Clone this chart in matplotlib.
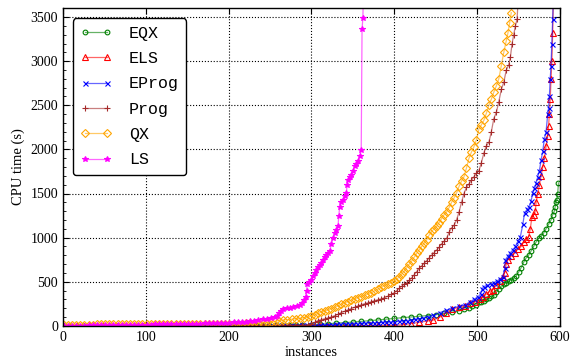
import matplotlib
matplotlib.use("Agg")
import matplotlib.pyplot as plt
from matplotlib.ticker import MultipleLocator
from matplotlib.colors import to_rgba

# ---------------- data (instances solved, CPU time in s) ----------------
labels = ["EQX", "ELS", "EProg", "Prog", "QX", "LS"]

eqx_n = [1, 9, 17, 25, 33, 41, 49, 57, 65, 73, 81, 89, 97, 105, 113, 121, 129, 137, 145, 153, 161, 169, 177, 185, 193, 201, 209, 217, 225, 233, 241, 249, 257, 265, 273, 281, 289,
         300, 310, 320, 330, 340, 350, 360, 370, 380, 390, 400, 410, 420, 430, 440, 450, 460, 470, 478, 484, 490, 494, 498, 502, 505, 508, 511, 514, 517, 520, 523, 526, 529,
         532, 535, 538, 541, 544, 547, 550, 553, 556, 559, 562, 565, 568, 571, 574, 577, 580, 583, 586, 589, 591, 593, 594, 595, 596, 597, 598]
eqx_t = [0, 0, 0, 0, 0, 0, 1, 1, 1, 1, 1, 1, 1, 1, 1, 2, 2, 2, 2, 2, 2, 2, 3, 3, 3, 3, 3, 3, 4, 4, 4, 5, 5, 6, 6, 7, 8,
         10, 18, 24, 30, 36, 42, 50, 58, 66, 75, 84, 92, 100, 108, 116, 125, 140, 155, 170, 185, 205, 220, 240, 265, 275, 285, 300, 320, 335, 350, 380, 420, 450,
         470, 490, 505, 520, 545, 565, 610, 660, 720, 770, 800, 850, 900, 950, 990, 1020, 1050, 1100, 1150, 1200, 1260, 1300, 1350, 1400, 1430, 1500, 1620]

els_n = [1, 9, 17, 25, 33, 41, 49, 57, 65, 73, 81, 89, 97, 105, 113, 121, 129, 137, 145, 153, 161, 169, 177, 185, 193, 201, 209, 217, 225, 233, 241, 249, 257, 265, 273, 281, 289,
         300, 310, 320, 330, 340, 350, 360, 370, 380, 390, 400, 410, 420, 430, 440, 447, 455, 462, 470, 478, 485, 491, 497, 503, 507, 511, 515, 519, 523, 527, 531,
         533, 535, 537, 541, 545, 549, 553, 556, 559, 562, 564, 566, 568, 570, 571, 573, 575, 577, 579, 581, 583, 585, 586, 587, 588, 589, 590, 591, 592]
els_t = [0, 0, 0, 0, 0, 0, 0, 0, 0, 0, 0, 0, 0, 0, 0, 0, 0, 0, 0, 1, 1, 1, 1, 1, 1, 1, 1, 1, 1, 1, 1, 1, 1, 1, 1, 2, 2,
         2, 2, 2, 3, 3, 3, 3, 4, 4, 4, 5, 12, 25, 40, 55, 65, 100, 150, 190, 210, 230, 254, 275, 300, 330, 360, 390, 410, 462, 510, 557,
         600, 700, 750, 790, 830, 870, 900, 950, 980, 1011, 1100, 1239, 1260, 1300, 1400, 1500, 1600, 1700, 1800, 1900, 2035, 2150, 2263, 2400, 2566, 2800, 3000, 3324, 3800]

eprog_n = [1, 7, 13, 19, 25, 31, 37, 43, 49, 55, 61, 67, 73, 79, 85, 91, 97, 103, 109, 115, 121, 127, 133, 139, 145, 151, 157, 163, 169, 175, 181, 187, 193, 199, 205, 211,
           217, 223, 229, 234, 239, 244, 249, 254, 259, 264, 269, 274, 279, 284, 289, 294, 300, 305, 310, 315, 320, 325, 330, 335, 340, 345, 350, 355, 360, 365, 370,
           375, 380, 385, 390, 395, 400, 405, 410, 415, 420, 425, 430, 435, 440, 447, 455, 462, 470, 478, 485, 491, 496, 501, 504, 506, 508, 512, 516, 520, 524, 528,
           531, 533, 534, 537, 540, 543, 546, 549, 552, 555, 557, 560, 563, 565, 567, 569, 571, 573, 575, 577, 579, 581, 583, 585, 586, 587, 588, 589, 590, 591, 592]
eprog_t = [0, 0, 0, 0, 0, 0, 0, 0, 0, 0, 0, 0, 0, 0, 0, 0, 1, 1, 1, 1, 1, 1, 1, 1, 1, 1, 1, 1, 1, 2, 2, 2, 2, 2, 2, 2,
           2, 2, 3, 3, 3, 3, 3, 3, 4, 4, 4, 4, 4, 5, 5, 5, 5, 7, 9, 10, 12, 14, 16, 18, 20, 22, 24, 26, 28, 30, 32,
           34, 36, 38, 40, 42, 45, 50, 55, 60, 65, 72, 80, 90, 100, 122, 150, 175, 200, 220, 235, 270, 300, 330, 360, 420, 445, 460, 475, 490, 510, 535,
           557, 650, 750, 790, 830, 860, 900, 960, 1011, 1150, 1277, 1320, 1352, 1420, 1504, 1560, 1620, 1690, 1760, 1880, 1980, 2120, 2200, 2400, 2470, 2600, 2800, 2950, 3200, 3480, 3800]

prog_n = [1, 9, 17, 25, 33, 41, 49, 57, 65, 73, 81, 89, 97, 105, 113, 121, 129, 137, 145, 153, 161, 169, 177, 185, 193, 201, 209, 217, 225, 233, 241, 249, 257, 265, 273, 281, 289,
          296, 300, 304, 308, 312, 316, 320, 324, 328, 332, 336, 340, 344, 348, 352, 356, 360, 364, 368, 372, 376, 380, 384, 388, 392, 396, 400, 403, 406, 409, 412,
          415, 418, 421, 424, 427, 430, 433, 436, 439, 442, 445, 448, 451, 454, 457, 460, 463, 466, 469, 472, 475, 478, 481, 484, 487, 490, 493, 496, 499, 502, 505,
          508, 511, 514, 517, 520, 523, 526, 529, 532, 535, 538, 540, 542, 544, 546, 548, 550]
prog_t = [0, 0, 0, 0, 0, 1, 1, 1, 1, 1, 1, 1, 2, 2, 2, 2, 2, 2, 3, 3, 3, 3, 3, 4, 4, 4, 4, 5, 5, 5, 6, 6, 6, 7, 7, 8, 8,
          10, 20, 40, 60, 70, 80, 90, 100, 115, 130, 150, 165, 180, 195, 210, 225, 238, 250, 260, 272, 285, 295, 305, 318, 335, 355, 375, 400, 425, 450, 470,
          490, 515, 545, 580, 615, 650, 680, 710, 740, 770, 800, 830, 860, 890, 930, 960, 990, 1060, 1110, 1140, 1200, 1290, 1400, 1500, 1570, 1610, 1650, 1690, 1730, 1760, 1850,
          1960, 2040, 2080, 2200, 2350, 2420, 2540, 2680, 2760, 2900, 2960, 3050, 3200, 3300, 3400, 3475, 3800]

qx_n = [1, 6, 11, 16, 21, 26, 31, 36, 41, 46, 51, 56, 61, 66, 71, 76, 81, 86, 91, 96, 101, 106, 111, 116, 121, 126, 131, 136, 141, 146, 151, 156, 161, 166, 171, 176, 181,
        186, 191, 196, 201, 206, 211, 216, 221, 226, 231, 236, 241, 246, 251, 256, 261, 266, 271, 276, 281, 286, 291, 296, 300, 304, 308, 312, 316, 320, 324, 328,
        332, 336, 340, 344, 348, 352, 356, 360, 364, 368, 372, 376, 380, 384, 388, 392, 396, 400, 403, 406, 409, 412, 415, 418, 421, 424, 427, 430, 433, 436, 439,
        442, 445, 448, 451, 454, 457, 460, 463, 466, 469, 472, 475, 478, 481, 484, 487, 490, 493, 496, 499, 502, 505, 508, 511, 514, 517, 520, 523, 526, 529, 532,
        535, 537, 539, 541]
qx_t = [12, 12, 13, 13, 13, 14, 14, 14, 15, 15, 15, 16, 16, 16, 17, 17, 17, 18, 18, 18, 19, 19, 19, 20, 20, 20, 21, 21, 21, 22, 22, 22, 23, 23, 23, 24, 24,
        24, 25, 25, 25, 26, 26, 26, 27, 27, 30, 33, 37, 40, 45, 50, 60, 65, 70, 75, 80, 85, 90, 100, 110, 125, 140, 155, 170, 180, 195, 210,
        225, 245, 260, 275, 290, 305, 320, 332, 345, 360, 375, 395, 415, 435, 455, 470, 490, 505, 530, 557, 590, 620, 660, 700, 735, 780, 822, 860, 900, 940, 974,
        1030, 1070, 1100, 1126, 1170, 1215, 1260, 1290, 1340, 1400, 1450, 1505, 1580, 1640, 1690, 1790, 1900, 1970, 2030, 2110, 2230, 2280, 2330, 2410, 2500, 2570, 2650, 2720, 2800, 2950, 3100,
        3230, 3320, 3430, 3550]

ls_n = [1, 6, 11, 16, 21, 26, 31, 36, 41, 46, 51, 56, 61, 66, 71, 76, 81, 86, 91, 96, 101, 106, 111, 116, 121, 126, 131, 136, 141, 146, 151, 156, 161, 166, 171, 176, 181,
        186, 191, 196, 201, 206, 211, 216, 221, 226, 231, 236, 241, 246, 251, 256, 259, 261, 263, 266, 270, 274, 278, 282, 286, 289, 291, 293, 294, 295, 297, 300,
        302, 304, 306, 308, 310, 312, 314, 316, 318, 320, 322, 324, 326, 328, 330, 332, 333, 334, 336, 338, 340, 342, 343, 344, 346, 348, 350, 352, 354, 356, 358,
        360, 361, 362, 363]
ls_t = [1, 1, 2, 2, 3, 3, 4, 4, 5, 5, 6, 6, 7, 8, 8, 9, 10, 10, 11, 12, 13, 14, 15, 16, 17, 18, 19, 20, 21, 22, 23, 24, 25, 26, 27, 28, 30,
        31, 33, 34, 35, 38, 40, 43, 45, 50, 55, 62, 72, 80, 88, 98, 110, 150, 165, 185, 197, 205, 210, 222, 235, 255, 290, 330, 400, 470, 495, 519,
        560, 600, 630, 665, 690, 710, 745, 780, 805, 830, 845, 930, 990, 1050, 1090, 1130, 1250, 1350, 1400, 1430, 1470, 1505, 1600, 1650, 1690, 1713, 1760, 1810, 1840, 1865, 1920,
        1990, 3360, 3494, 3900]

x_ticks = [0, 100, 200, 300, 400, 500, 600]
y_ticks = [0, 500, 1000, 1500, 2000, 2500, 3000, 3500]

# ---------------- styles ----------------
colors = ["#008000", "#ff0000", "#0000ff", "#a52a2a", "#ffa500", "#ff00ff"]
markers = ["o", "^", "x", "+", "D", "*"]
filled = [False, False, True, True, False, True]
msizes = [3.4, 3.8, 3.6, 4.2, 3.6, 4.2]
series = [(eqx_n, eqx_t), (els_n, els_t), (eprog_n, eprog_t),
          (prog_n, prog_t), (qx_n, qx_t), (ls_n, ls_t)]

plt.rcParams["font.family"] = ["Liberation Serif", "DejaVu Serif"]

fig = plt.figure(figsize=(5.71, 3.60), dpi=100)
ax = fig.add_axes([0.110, 0.095, 0.871, 0.882])

for (n, t), lab, c, m, f, ms in zip(series, labels, colors, markers, filled, msizes):
    ax.plot(n, t, color=to_rgba(c, 0.6), lw=0.9, marker=m, ms=ms,
            mec=c, mfc=(c if f else "none"), mew=0.8, label=lab)

ax.set_xlim(0, 600)
ax.set_ylim(0, 3600)
ax.set_xticks(x_ticks)
ax.set_yticks(y_ticks)
ax.yaxis.set_minor_locator(MultipleLocator(100))
ax.tick_params(which="both", direction="in", top=True, right=True, labelsize=10)
ax.tick_params(which="major", length=4)
ax.tick_params(which="minor", length=2)
ax.grid(True, which="major", color="black", linestyle=":", linewidth=0.8)
ax.set_axisbelow(True)
for s in ax.spines.values():
    s.set_linewidth(1.0)

ax.set_xlabel("instances", fontsize=10.5, labelpad=2)
ax.set_ylabel("CPU time (s)", fontsize=10.5, labelpad=4)

leg = ax.legend(loc="upper left", prop={"family": "Liberation Mono", "size": 12},
                fancybox=True, framealpha=1, edgecolor="black", numpoints=2,
                handlelength=1.9, handletextpad=1.0, labelspacing=0.62,
                borderpad=0.45, borderaxespad=0.6)
leg.get_frame().set_linewidth(1.0)

fig.savefig("out.png", dpi=100)
